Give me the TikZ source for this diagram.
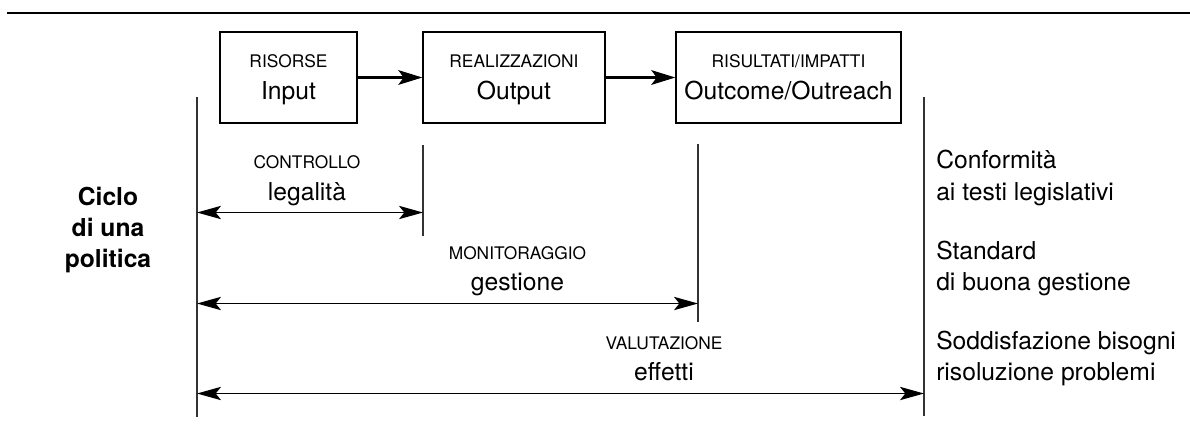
\documentclass[tikz,border=0pt]{standalone}
\usepackage{fontspec}
\setmainfont{TeX Gyre Heros}
\usetikzlibrary{arrows.meta}
\tikzset{
  box/.style={draw=black, line width=1pt, minimum height=68.25pt, inner sep=0pt},
  flow/.style={line width=1.8pt, -{Stealth[length=18pt,width=11pt,inset=4pt]}},
  dim/.style={line width=0.9pt, {Stealth[length=18pt,width=10pt,inset=4pt]}-{Stealth[length=18pt,width=10pt,inset=4pt]}},
  vline/.style={line width=1pt, draw=black!80},
  smalltxt/.style={anchor=base, inner sep=0pt, font=\fontsize{13}{15}\selectfont},
  bigtxt/.style={anchor=base, inner sep=0pt, font=\fontsize{18.5}{22}\selectfont},
  righttxt/.style={anchor=base west, inner sep=0pt, font=\fontsize{18.5}{22}\selectfont},
  boldtxt/.style={anchor=base, inner sep=0pt, font=\fontsize{18.5}{22}\selectfont\bfseries},
}
\begin{document}
\begin{tikzpicture}[x=0.75pt, y=-0.75pt]
\useasboundingbox (0,0) rectangle (1190,430);
% top rule
\coordinate (ruleL) at (7,12.7);
\coordinate (ruleR) at (1190,12.7);
\draw[line width=1.6pt] (ruleL) -- (ruleR);

% boxes
\node[box, minimum width=102.75pt] (b1) at (288.5,77.5) {};
\node[box, minimum width=136.5pt] (b2) at (514,77.5) {};
\node[box, minimum width=168.75pt] (b3) at (788.5,77.5) {};
\node[smalltxt] (t1) at (288.5,67.5) {RISORSE};
\node[bigtxt] (u1) at (288.5,99) {Input};
\node[smalltxt] (t2) at (514,67.5) {REALIZZAZIONI};
\node[bigtxt] (u2) at (514,99) {Output};
\node[smalltxt] (t3) at (788.5,67.5) {RISULTATI/IMPATTI};
\node[bigtxt] (u3) at (788.5,99) {Outcome/Outreach};
\draw[flow] (b1.east) -- (b2.west);
\draw[flow] (b2.east) -- (b3.west);

% vertical lines
\coordinate (L1t) at (197,97);  \coordinate (L1b) at (197,417);
\coordinate (M1t) at (423,145); \coordinate (M1b) at (423,236);
\coordinate (M2t) at (698,144); \coordinate (M2b) at (698,322);
\coordinate (Rt) at (924,97);   \coordinate (Rb) at (924,416);
\draw[vline] (L1t) -- (L1b);
\draw[vline] (M1t) -- (M1b);
\draw[vline] (M2t) -- (M2b);
\draw[vline] (Rt) -- (Rb);

% dimension arrows
\coordinate (a1l) at (197,212.5); \coordinate (a1r) at (423,212.5);
\coordinate (a2l) at (197,303.5); \coordinate (a2r) at (698,303.5);
\coordinate (a3l) at (197,393.5); \coordinate (a3r) at (924,393.5);
\draw[dim] (a1l) -- (a1r);
\draw[dim] (a2l) -- (a2r);
\draw[dim] (a3l) -- (a3r);

% labels
\node[smalltxt] (c1) at (307,168.5) {CONTROLLO};
\node[bigtxt] (c2) at (307,200) {legalità};
\node[smalltxt] (m1) at (517.5,259) {MONITORAGGIO};
\node[bigtxt] (m2) at (517.5,290) {gestione};
\node[smalltxt] (v1) at (664,349) {VALUTAZIONE};
\node[bigtxt] (v2) at (664,380) {effetti};

% left title
\node[boldtxt] (ciclo) at (108,205.5) {Ciclo};
\node[boldtxt] (diuna) at (108,236.5) {di una};
\node[boldtxt] (pol) at (108,267.5) {politica};

% right texts
\node[righttxt] (r1) at (936,168.5) {Conformità};
\node[righttxt] (r2) at (936,200) {ai testi legislativi};
\node[righttxt] (r3) at (936,259) {Standard};
\node[righttxt] (r4) at (936,290) {di buona gestione};
\node[righttxt] (r5) at (936,349) {Soddisfazione bisogni};
\node[righttxt] (r6) at (936,380) {risoluzione problemi};
\end{tikzpicture}
\end{document}
